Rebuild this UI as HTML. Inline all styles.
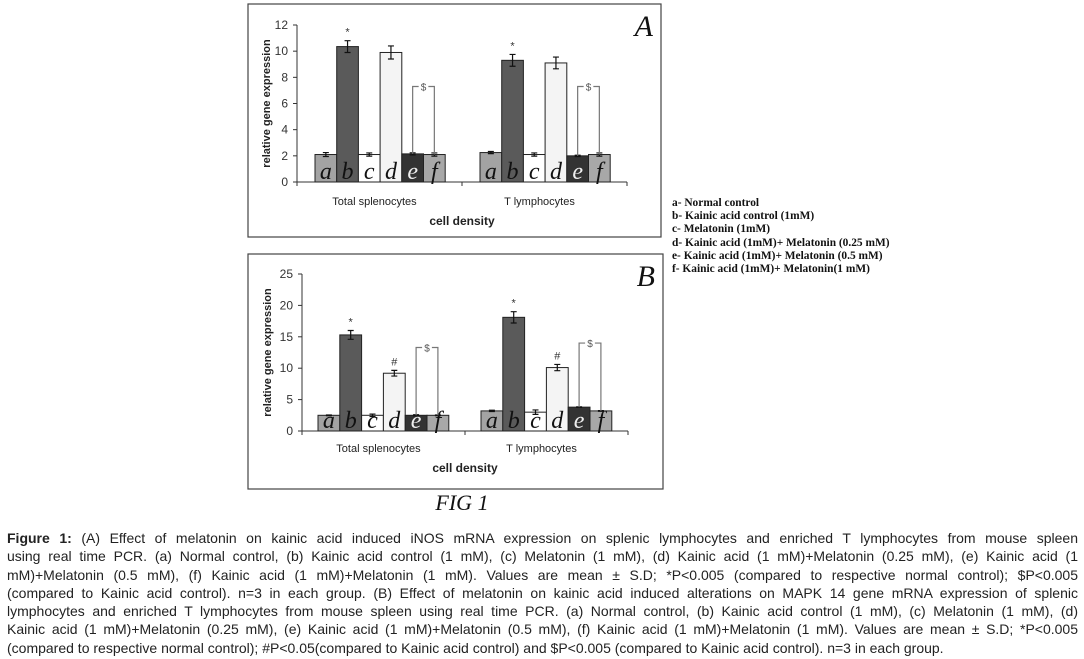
<!DOCTYPE html>
<html><head><meta charset="utf-8">
<style>
html,body{margin:0;padding:0;background:#fff;}
body{width:1084px;height:659px;position:relative;overflow:hidden;font-family:"Liberation Sans",sans-serif;}
svg{position:absolute;left:0;top:0;}
.legend{position:absolute;left:672px;top:197px;font-family:"Liberation Serif",serif;font-weight:bold;font-size:11.4px;line-height:13.2px;color:#111;}
.cap{position:absolute;left:7px;top:529px;width:1071px;font-size:14px;line-height:18.3px;color:#222;}
.cap div{text-align:justify;text-align-last:justify;white-space:nowrap;}
.cap div.last{text-align-last:left;}
</style></head>
<body>
<svg id="fig" width="1084" height="659"></svg>
<div class="legend">
<div>a- Normal control</div>
<div>b- Kainic acid control (1mM)</div>
<div>c- Melatonin (1mM)</div>
<div>d- Kainic acid (1mM)+ Melatonin (0.25 mM)</div>
<div>e- Kainic acid (1mM)+ Melatonin (0.5 mM)</div>
<div>f- Kainic acid (1mM)+ Melatonin(1 mM)</div>
</div>
<div class="cap">
<div><b>Figure 1:</b> (A) Effect of melatonin on kainic acid induced iNOS mRNA expression on splenic lymphocytes and enriched T lymphocytes from mouse spleen</div>
<div>using real time PCR. (a) Normal control, (b) Kainic acid control (1 mM), (c) Melatonin (1 mM), (d) Kainic acid (1 mM)+Melatonin (0.25 mM), (e) Kainic acid (1</div>
<div>mM)+Melatonin (0.5 mM), (f) Kainic acid (1 mM)+Melatonin (1 mM). Values are mean ± S.D; *P&lt;0.005 (compared to respective normal control); $P&lt;0.005</div>
<div>(compared to Kainic acid control). n=3 in each group. (B) Effect of melatonin on kainic acid induced alterations on MAPK 14 gene mRNA expression of splenic</div>
<div>lymphocytes and enriched T lymphocytes from mouse spleen using real time PCR. (a) Normal control, (b) Kainic acid control (1 mM), (c) Melatonin (1 mM), (d)</div>
<div>Kainic acid (1 mM)+Melatonin (0.25 mM), (e) Kainic acid (1 mM)+Melatonin (0.5 mM), (f) Kainic acid (1 mM)+Melatonin (1 mM). Values are mean ± S.D; *P&lt;0.005</div>
<div class="last">(compared to respective normal control); #P&lt;0.05(compared to Kainic acid control) and $P&lt;0.005 (compared to Kainic acid control). n=3 in each group.</div>
</div>
<script>
const categories = ["Total splenocytes", "T lymphocytes"];
const barLetters = ["a","b","c","d","e","f"];
const valuesA = [[2.1,10.35,2.1,9.9,2.15,2.1],[2.25,9.3,2.1,9.1,2.0,2.1]];
const errorsA = [[0.15,0.45,0.12,0.5,0.08,0.12],[0.08,0.45,0.12,0.45,0.05,0.12]];
const marksA = [["","*","","","",""],["","*","","","",""]];
const bracketA = [7.3, 7.3];
const ticksA = [0,2,4,6,8,10,12];
const valuesB = [[2.5,15.3,2.5,9.2,2.5,2.5],[3.2,18.1,3.0,10.1,3.8,3.2]];
const errorsB = [[0.05,0.7,0.2,0.45,0.1,0.05],[0.1,0.9,0.35,0.5,0.05,0.05]];
const marksB = [["","*","","#","",""],["","*","","#","",""]];
const bracketB = [13.3, 14.0];
const ticksB = [0,5,10,15,20,25];

const fills = ["#a3a3a3","#5a5a5a","#ffffff","#f4f4f4","#333333","#a8a8a8"];
const letterColor = ["#111","#111","#111","#111","#eee","#111"];
const svg = document.getElementById('fig');
const NS = "http://www.w3.org/2000/svg";
function mk(tag, attrs, name, text){
  const e = document.createElementNS(NS, tag);
  for (const k in attrs) e.setAttribute(k, attrs[k]);
  
  
  if (text !== undefined) e.textContent = text;
  svg.appendChild(e); return e;
}
function panel(cfg){
  const {box, x0, x1, yTop, yBot, max, ticks, vals, errs, marks, br, letter, id} = cfg;
  mk('rect',{x:box[0],y:box[1],width:box[2]-box[0],height:box[3]-box[1],fill:'none',stroke:'#444','stroke-width':1.2}, 'panel-'+id+'-border');
  const y = v => yBot - v/max*(yBot-yTop);
  const catW = (x1-x0)/categories.length;
  const bw = cfg.bw;
  mk('line',{x1:x0,y1:yTop,x2:x0,y2:yBot,stroke:'#333'}, 'y-axis-'+id);
  mk('line',{x1:x0,y1:yBot,x2:x1,y2:yBot,stroke:'#333'}, 'x-axis-'+id);
  ticks.forEach(t=>{
    mk('line',{x1:x0-4,y1:y(t),x2:x0,y2:y(t),stroke:'#333'}, 'y-tick-'+id);
    mk('text',{x:x0-9,y:y(t)+4,'text-anchor':'end','font-size':12,fill:'#333','font-family':'Liberation Sans, sans-serif'}, 'y-tick-label-'+id, String(t));
  });
  for (let i=0;i<=categories.length;i++){
    const tx = x0 + i*catW;
    mk('line',{x1:tx,y1:yBot,x2:tx,y2:yBot+4,stroke:'#333'}, 'x-tick-'+id);
  }
  categories.forEach((c,ci)=>{
    const gs = x0 + ci*catW + cfg.off;
    vals[ci].forEach((v,bi)=>{
      const bx = gs + bi*bw;
      mk('rect',{x:bx,y:y(v),width:bw,height:yBot-y(v),fill:fills[bi],stroke:'#222','stroke-width':1}, 'bar-'+id+'-'+ci+'-'+barLetters[bi]);
      const cx = bx+bw/2, e = errs[ci][bi];
      mk('path',{d:`M${cx},${y(v+e)}V${y(v-e)}M${cx-3},${y(v+e)}H${cx+3}M${cx-3},${y(v-e)}H${cx+3}`,stroke:'#111',fill:'none','stroke-width':1.2}, 'error-bar-'+id);
      mk('text',{x:cx,y:yBot-3,'text-anchor':'middle','font-size':24,'font-style':'italic','font-family':'Liberation Serif, serif',fill:letterColor[bi]}, 'bar-letter-'+id, barLetters[bi]);
      if (marks[ci][bi]) mk('text',{x:cx,y:y(v+e)-5,'text-anchor':'middle','font-size':11,fill:'#333'}, 'significance-mark-'+id, marks[ci][bi]);
    });
    const ex = gs + 4*bw + bw/2, fx = gs + 5*bw + bw/2, by = y(br[ci]);
    mk('path',{d:`M${ex},${y(vals[ci][4])}V${by}H${ex+6}M${fx-6},${by}H${fx}V${y(vals[ci][5])}`,stroke:'#777',fill:'none','stroke-width':1.2}, 'bracket-'+id);
    mk('text',{x:(ex+fx)/2,y:by+4,'text-anchor':'middle','font-size':10,fill:'#555'}, 'bracket-mark-'+id, '$');
    mk('text',{x:x0+ci*catW+catW/2-5,y:cfg.catY,'text-anchor':'middle','font-size':11,fill:'#222'}, 'category-label-'+id, c);
  });
  mk('text',{x:(x0+x1)/2,y:cfg.catY+20,'text-anchor':'middle','font-size':12,'font-weight':'bold',fill:'#222'}, 'x-axis-title-'+id, 'cell density');
  const yc = (yTop+yBot)/2;
  mk('text',{x:cfg.ytx,y:yc,'text-anchor':'middle','font-size':11,'font-weight':'bold',fill:'#222',transform:`rotate(-90 ${cfg.ytx} ${yc})`}, 'y-axis-title-'+id, 'relative gene expression');
  mk('text',{x:box[2]-8,y:box[1]+32,'text-anchor':'end','font-size':30,'font-style':'italic','font-family':'Liberation Serif, serif',fill:'#111'}, 'panel-label-'+id, letter);
}
panel({id:'a',box:[248,4,661,237],x0:297,x1:627,yTop:25,yBot:182,max:12,ticks:ticksA,vals:valuesA,errs:errorsA,marks:marksA,br:bracketA,letter:'A',bw:21.7,off:18,catY:205,ytx:270});
panel({id:'b',box:[248,254,663,489],x0:302,x1:628,yTop:274,yBot:431,max:25,ticks:ticksB,vals:valuesB,errs:errorsB,marks:marksB,br:bracketB,letter:'B',bw:21.8,off:16,catY:452,ytx:271});
mk('text',{x:462,y:510,'text-anchor':'middle','font-size':22,'font-style':'italic','font-family':'Liberation Serif, serif',fill:'#111'}, 'figure-label', 'FIG 1');
</script>
</body></html>
